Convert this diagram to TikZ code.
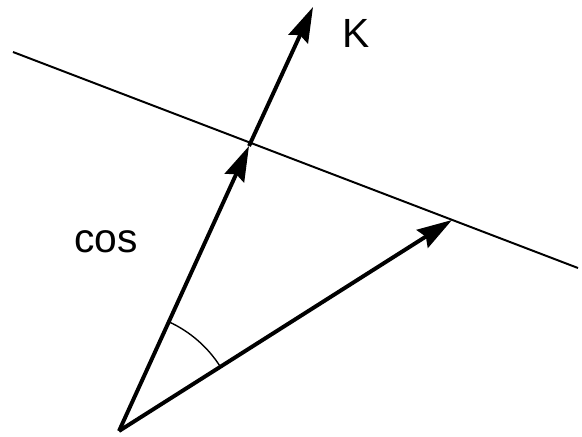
\documentclass[tikz,border=0pt]{standalone}
\usepackage{fontspec}
\setmainfont{Liberation Sans}
\usetikzlibrary{arrows.meta,angles}

\begin{document}
\begin{tikzpicture}[
    x=0.025cm, y=-0.025cm,
    >={Stealth[length=25pt, width=15pt, inset=3pt]},
    vetor/.style={->, line width=2.8pt},
    reta/.style={line width=1.4pt},
    marca/.style={draw, line width=1pt, angle radius=3cm},
    rotulo/.style={font=\fontsize{29}{34}\selectfont, inner sep=0pt}
]
\useasboundingbox (0,0) rectangle (582,436);

% Pontos
\coordinate (origem) at (119,431);
\coordinate (cruz) at (249,146);
\coordinate (ponta) at (313,7);
\coordinate (proj) at (452,220);
\coordinate (retaA) at (13,52);
\coordinate (retaB) at (578,268);

% Reta
\draw[reta] (retaA) -- (retaB);

% Vetores
\draw[vetor] (origem) -- (cruz);
\draw[vetor] (cruz) -- (ponta);
\draw[vetor] (origem) -- (proj);

% Angulo
\pic[marca] {angle = proj--origem--cruz};

% Rotulos
\node[rotulo] (k) at (356,33) {K};
\node[rotulo] (cos) at (106,242) {cos};

\end{tikzpicture}
\end{document}
